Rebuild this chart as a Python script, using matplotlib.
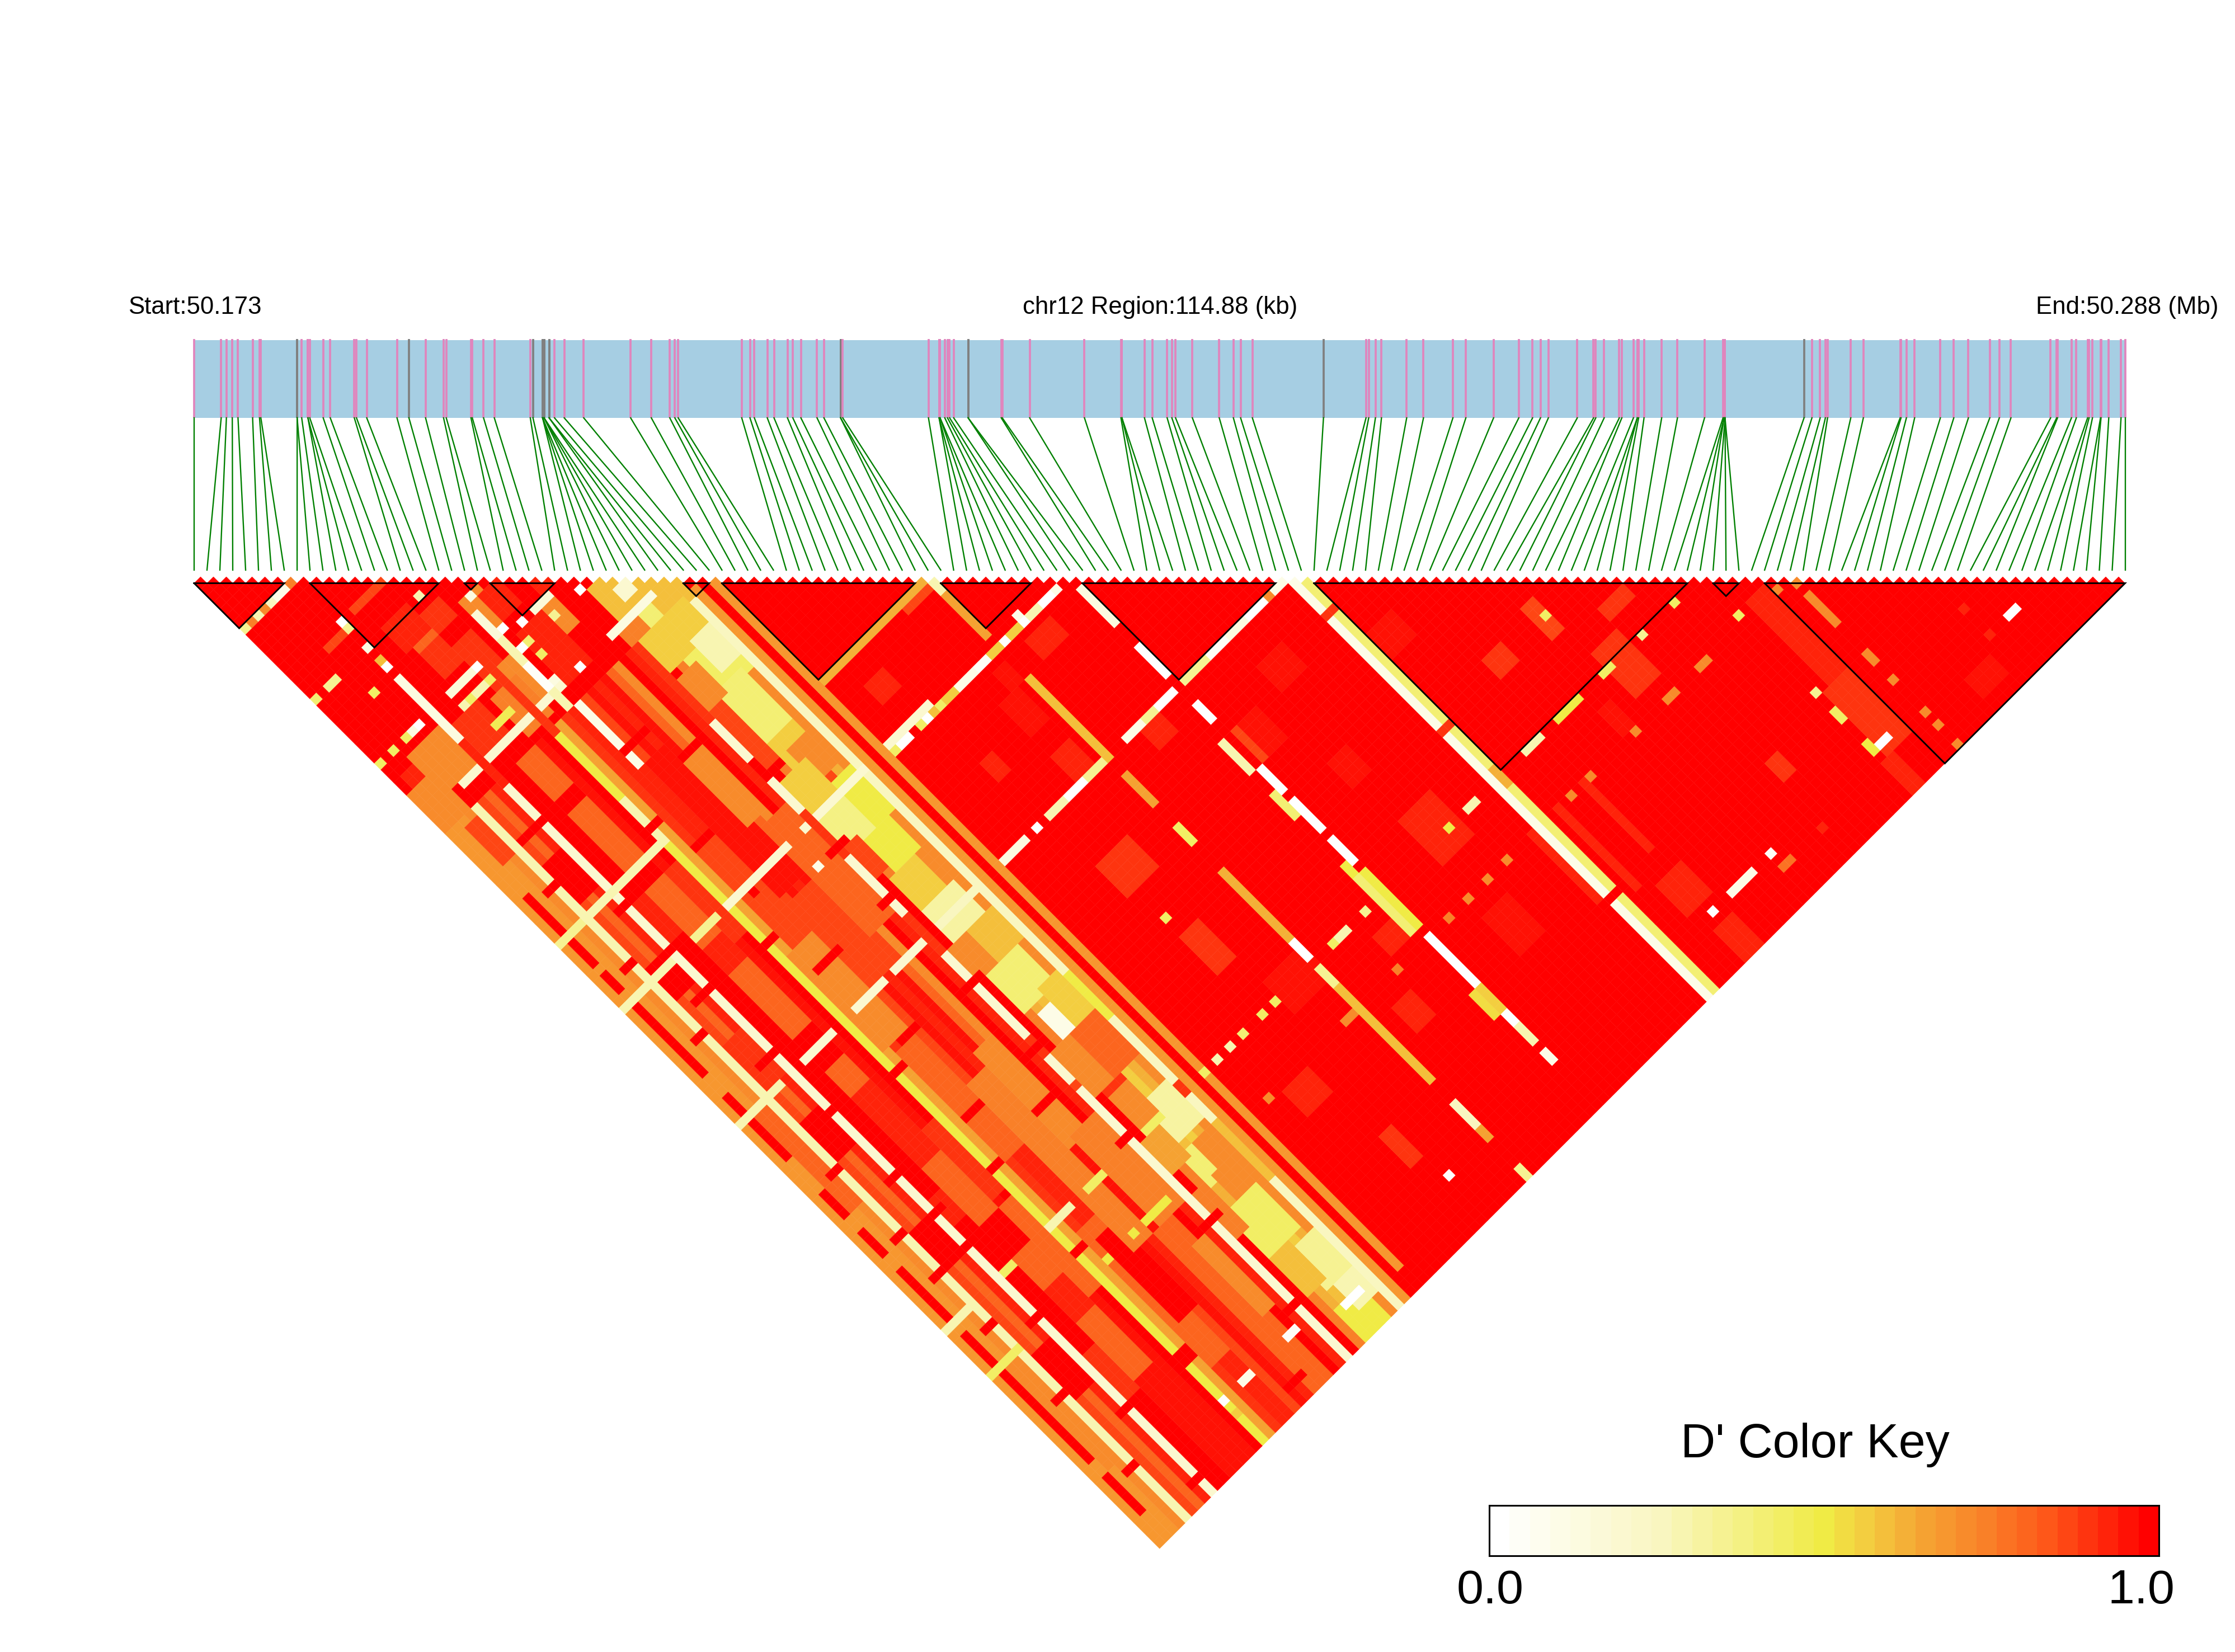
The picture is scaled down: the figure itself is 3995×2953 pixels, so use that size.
import numpy as np
import matplotlib
matplotlib.use("Agg")
import matplotlib.pyplot as plt
from matplotlib.collections import PolyCollection
from matplotlib.colors import LinearSegmentedColormap, BoundaryNorm

plt.rcParams['font.family'] = ['Liberation Sans', 'DejaVu Sans']

# SNP positions on the track, kb from region start
snp_kb = [0.0, 1.61, 1.92, 2.27, 2.61, 3.48, 3.89, 3.97, 6.13, 6.13, 6.40, 6.77, 6.77, 6.88, 7.68, 8.10, 9.53, 9.66,
          10.27, 12.07, 12.78, 13.77, 14.84, 15.0, 16.47, 16.55, 17.22, 17.86, 20.0, 20.16, 20.73, 20.73, 20.73,
          20.82, 20.82, 20.82, 21.12, 21.12, 21.44, 22.02, 23.18,
          25.97, 27.20, 28.30, 28.60, 28.80, 32.58, 33.07, 33.33, 34.10, 34.50, 35.30, 35.62, 36.10, 37.06, 37.47,
          38.46, 38.46, 38.59, 43.69, 44.32, 44.32, 44.38, 44.38, 44.66, 44.82, 44.95, 45.19, 46.05, 46.05,
          48.02, 48.08, 49.71, 52.97, 55.14, 55.20, 55.20, 56.54, 57.0, 57.89, 58.17, 58.39, 59.39, 60.99, 61.83,
          62.26, 62.96, 67.19, 69.72, 69.88, 70.28, 70.64, 72.14,
          73.14, 74.89, 75.66, 77.31, 78.81, 79.63, 80.10, 80.57, 82.29, 83.26, 83.39, 83.89, 84.79, 84.94, 85.63,
          85.86, 85.86, 85.94, 86.26, 87.31, 88.25, 89.86, 90.96, 91.02, 91.02, 91.08, 91.08, 91.08,
          95.78, 96.25, 96.74, 97.05, 97.18, 98.56, 99.31, 101.5, 101.55, 101.87, 102.36, 103.89, 104.69, 105.56,
          106.83, 107.40, 108.09, 110.45, 110.81, 110.86, 111.69, 111.98, 112.65, 112.74, 112.94, 113.42, 113.45,
          113.91, 114.64, 114.88]
gray_kb = [6.13, 12.78, 20.16, 20.73, 20.82, 21.12, 38.46, 46.05, 67.19, 95.78]
region_kb = 114.88
n_snp = len(snp_kb)

# haplotype blocks (first snp, last snp)
blocks = [(0, 7), (9, 19), (21, 22), (23, 28), (38, 40), (41, 56), (58, 65), (69, 84), (87, 116), (118, 120), (122, 150)]

# D' per snp i against the far snps (j>=40), left part of the triangle
left_i = [.67, .67, .67, .7, .28, .85, .8, .93, .2, 1, 1, .8, .8, .8, .95, 1, .5, .65, .9, .93, .93, .85, .95, .93,
          .95, .8, .7, 1, .93, .2, 1, .75, .62, .6, .55, .62, .7, .27, .68, 1, .68]

# (i0, i1, j0, j1, D')
boxes = [
    # mosaic in the left part
    (1, 1, 51, 57, 1), (1, 1, 58, 61, 1), (1, 1, 63, 65, 1), (1, 1, 67, 78, 1), (1, 1, 82, 84, 1), (1, 1, 86, 91, 1),
    (1, 1, 97, 100, 1), (1, 1, 103, 106, 1), (1, 1, 109, 113, 1), (1, 1, 114, 116, 1), (1, 1, 119, 123, 1),
    (1, 1, 125, 135, 1), (1, 1, 136, 138, 1), (1, 1, 141, 146, 1),
    (2, 3, 85, 100, .8), (2, 3, 125, 140, .72), (2, 3, 41, 46, .85),
    (5, 7, 50, 55, 1), (5, 7, 66, 70, 1), (5, 7, 78, 84, .9), (5, 7, 90, 95, 1), (5, 7, 107, 112, 1), (5, 7, 126, 132, 1),
    (9, 10, 60, 66, .93), (9, 10, 106, 109, .93), (9, 10, 130, 136, .9),
    (11, 13, 46, 47, 1), (11, 13, 58, 59, 1), (11, 13, 69, 72, .93), (11, 13, 83, 87, 1), (11, 13, 92, 102, .93),
    (11, 13, 112, 116, 1), (11, 13, 122, 126, .93), (11, 13, 136, 150, .95),
    (14, 15, 60, 70, .9), (14, 15, 100, 110, .9), (14, 15, 112, 125, .8),
    (18, 20, 60, 75, .85), (18, 20, 120, 140, .8), (19, 21, 122, 134, 1), (17, 20, 76, 90, .72), (18, 20, 92, 108, .8),
    (21, 23, 50, 70, .95), (21, 23, 100, 125, .75), (23, 24, 126, 135, .93), (21, 25, 72, 84, .85),
    (24, 26, 52, 62, .7), (24, 26, 98, 112, .72), (24, 26, 126, 150, .8), (26, 27, 130, 140, .72),
    (25, 28, 64, 80, .8), (25, 28, 112, 125, .75),
    # upper mosaic, j below 40
    (10, 14, 15, 15, .85), (5, 7, 16, 16, .85), (11, 14, 19, 22, .93), (12, 14, 23, 23, .8), (12, 14, 24, 27, .9),
    (15, 17, 21, 23, .88), (15, 17, 26, 33, .9), (19, 21, 23, 27, .72), (16, 18, 31, 36, .72), (14, 17, 33, 38, .75),
    (9, 12, 32, 36, .9), (1, 4, 32, 36, .93), (3, 7, 31, 36, .72), (0, 3, 34, 39, .7), (24, 26, 29, 33, .7),
    (21, 24, 30, 37, .92), (30, 37, 32, 40, .6), (32, 33, 34, 35, .2), (31, 33, 37, 39, .4), (29, 31, 37, 39, .75),
    (35, 37, 28, 31, .72), (26, 28, 24, 28, .92), (21, 23, 24, 27, .92),
    # yellow band
    (32, 36, 42, 50, .45), (31, 35, 50, 58, .42), (32, 35, 58, 61, .55), (30, 34, 68, 72, .38), (32, 35, 73, 77, .5),
    (31, 35, 83, 88, .33), (31, 35, 93, 98, .42), (32, 33, 100, 103, .1), (33, 36, 115, 120, .32), (32, 34, 122, 126, .4),
    (31, 35, 130, 136, .45), (33, 36, 138, 143, .35), (32, 35, 146, 150, .5),
    (30, 31, 50, 60, .85), (33, 34, 62, 66, .85), (31, 33, 105, 112, .9), (33, 35, 126, 129, .72),
    (30, 36, 40, 44, .55), (34, 36, 44, 48, .3), (30, 32, 46, 50, .7), (33, 35, 60, 64, .72), (30, 33, 62, 66, .55),
    (34, 36, 66, 72, .5), (30, 31, 72, 76, .85), (35, 36, 78, 82, .72), (31, 34, 78, 82, .55), (30, 32, 88, 92, .7),
    (33, 36, 88, 92, .6), (34, 36, 98, 104, .55), (30, 32, 104, 110, .72), (33, 36, 104, 110, .8), (31, 33, 112, 116, .72),
    (30, 32, 118, 122, .65), (34, 36, 122, 128, .7), (30, 31, 126, 132, .75), (31, 33, 137, 142, .6), (34, 36, 144, 147, .3),
    # red-orange patches on the right
    (94, 96, 107, 109, .88), (101, 102, 106, 110, .85), (103, 106, 115, 121, .88), (92, 92, 124, 134, .92),
    (107, 110, 112, 113, .88), (119, 121, 123, 135, .93), (118, 121, 136, 145, .9), (117, 118, 146, 150, .92),
    (108, 109, 137, 139, .88), (74, 76, 103, 106, .95), (75, 79, 113, 119, .93), (74, 77, 127, 132, .95),
    (52, 57, 115, 119, .94), (49, 51, 105, 110, .88), (53, 55, 73, 77, .96), (53, 55, 81, 84, .93), (55, 56, 70, 72, .95),
    (48, 52, 93, 97, .9), (49, 50, 136, 140, .88), (90, 93, 138, 142, .92), (91, 93, 146, 150, .92), (88, 88, 124, 136, .93),
    (84, 84, 124, 134, .93), (87, 90, 96, 99, .94), (60, 63, 70, 72, .93), (62, 64, 86, 88, .92), (44, 46, 61, 63, .92),
    (47, 48, 76, 78, .93), (70, 72, 93, 97, .95), (76, 79, 90, 93, .95), (99, 100, 120, 123, .94), (130, 133, 146, 148, .96),
    (60, 62, 127, 130, .92), (64, 66, 120, 122, .92), (45, 48, 125, 128, .93),
]

# long stripes of one snp j: (j, i0, i1, D')
j_stripes = [
    (8, 0, 0, .35), (8, 1, 1, .75), (8, 2, 2, .3), (8, 3, 3, .72), (8, 4, 4, .25), (8, 5, 6, .1), (8, 7, 7, .75),
    (19, 0, 0, .4), (19, 2, 3, .35), (19, 16, 16, .3),
    (23, 5, 5, .45), (23, 20, 20, .15),
    (29, 0, 0, .45), (29, 2, 2, .45), (29, 4, 4, .45), (29, 5, 5, .15), (29, 6, 6, 0), (29, 11, 14, .18), (29, 15, 16, .02),
    (29, 22, 22, 0), (29, 24, 26, .18),
    (31, 11, 14, .3), (31, 15, 16, .45), (31, 20, 20, 0), (31, 21, 21, .4), (31, 25, 25, .35), (31, 29, 29, 0),
    (33, 21, 21, .45), (35, 12, 14, .48),
    (37, 5, 20, .2), (37, 28, 34, .15), (37, 23, 23, 0),
    (57, 0, 3, .35), (57, 5, 16, .3), (57, 41, 56, .62), (57, 40, 40, .15),
    (58, 53, 56, .85),
    (67, 0, 7, .3), (67, 11, 14, .35), (67, 16, 25, .2), (67, 28, 38, .2), (67, 40, 47, .2),
    (68, 41, 41, .45), (68, 42, 43, 0), (68, 45, 45, .45), (68, 46, 46, 0), (68, 47, 47, .6), (68, 48, 48, .45),
    (68, 49, 50, .55), (68, 51, 53, .1), (68, 54, 55, .05), (68, 56, 57, .55), (68, 58, 58, 0), (68, 59, 60, .55),
    (68, 61, 61, 0), (68, 62, 63, .3), (68, 64, 65, 0), (68, 66, 66, .1),
    (85, 0, 6, .3), (85, 10, 14, .2), (85, 18, 22, .2), (85, 24, 28, .2), (85, 31, 37, .25), (85, 40, 44, .15),
    (85, 46, 47, 0), (85, 48, 50, .3), (85, 51, 53, 0), (85, 54, 57, .35), (85, 60, 62, .1), (85, 63, 64, .35),
    (85, 65, 67, 0), (85, 69, 72, .35), (85, 73, 75, .05), (85, 76, 78, .15), (85, 79, 81, 0), (85, 82, 82, .72), (85, 83, 84, .1),
    (117, 0, 3, .3), (117, 9, 10, .45), (117, 16, 19, .3), (117, 22, 24, .45), (117, 31, 33, .45), (117, 40, 40, .45),
    (117, 42, 42, .3), (117, 44, 44, .3), (117, 46, 46, .4), (117, 49, 49, .45), (117, 51, 51, .45), (117, 61, 62, .3),
    (117, 65, 65, .35), (117, 78, 78, .5), (117, 81, 82, .3), (117, 90, 92, .3), (117, 95, 98, .5), (117, 102, 103, .45),
    (117, 108, 108, .35), (117, 113, 113, .45),
    (124, 0, 4, .45), (124, 16, 16, .5), (124, 18, 18, .5), (124, 22, 22, .5), (124, 24, 27, .5), (124, 43, 43, .7),
    (124, 55, 57, .72), (124, 63, 63, .75), (124, 71, 71, .75), (124, 74, 74, .7), (124, 77, 77, .72), (124, 80, 80, .72),
    (124, 90, 90, .72), (124, 93, 93, .72), (124, 100, 100, .72), (124, 105, 106, .7), (124, 110, 111, .72),
    (144, 16, 16, 0), (144, 19, 20, .1), (144, 26, 27, .05), (144, 40, 40, 0), (144, 51, 51, 0), (144, 92, 92, 0),
    (144, 95, 98, .1), (144, 101, 101, .05), (144, 118, 119, 0), (144, 138, 139, .03),
    (146, 33, 35, 0), (146, 102, 102, .78),
]

# long stripes of one snp i: (i, j0, j1, D')
i_stripes = [
    (8, 9, 14, 1), (8, 15, 15, 0), (8, 16, 16, .35), (8, 17, 18, 1), (8, 19, 19, .15), (8, 20, 20, 1), (8, 21, 21, .6),
    (8, 22, 22, 0), (8, 23, 23, 1), (8, 24, 33, .15), (8, 34, 40, .93),
    (16, 28, 40, .9),
    (19, 25, 28, .18), (19, 29, 32, .3), (19, 33, 36, .05), (19, 37, 39, .3), (20, 40, 49, .1), (20, 28, 28, 0),
    (16, 51, 57, .3),
    (29, 40, 51, .9), (29, 58, 60, 1), (29, 66, 72, .9), (29, 82, 87, .9), (29, 101, 103, .9), (29, 108, 108, .85),
    (37, 99, 105, .5), (37, 116, 117, .9), (37, 122, 130, .6),
    (38, 41, 150, .68), (39, 40, 150, 1), (40, 41, 147, .68), (40, 148, 150, 1),
    (57, 58, 59, .3), (57, 60, 66, .65), (57, 73, 85, .6), (57, 88, 92, .65), (57, 96, 98, .45), (57, 103, 113, .62),
    (57, 114, 116, 0), (57, 118, 120, .35), (57, 121, 135, .6), (57, 139, 142, .25), (57, 143, 144, .65), (57, 149, 150, .35),
    (68, 70, 75, .15), (68, 79, 83, .03), (68, 88, 90, .02), (67, 93, 97, .3), (68, 98, 101, .02), (67, 101, 104, .4),
    (68, 103, 107, .02), (68, 109, 112, 0), (67, 112, 113, .5), (68, 114, 122, .5), (67, 114, 122, .4), (68, 124, 127, .02),
    (68, 127, 132, 0), (67, 132, 135, .52), (68, 132, 135, .55), (68, 136, 137, 0), (68, 138, 140, .3), (68, 142, 143, .1),
    (69, 93, 97, .85),
    (85, 86, 150, .12), (86, 86, 150, .42), (85, 91, 91, .9), (86, 91, 91, .9), (85, 135, 135, 1), (86, 135, 135, 1),
    (85, 109, 109, .9), (86, 109, 109, .9), (86, 116, 118, .62),
    (117, 123, 123, .45), (117, 135, 135, .35), (117, 138, 139, .45), (117, 143, 144, .5),
    (124, 125, 125, .72), (124, 127, 131, .72), (124, 136, 137, .72), (124, 140, 140, .72), (124, 145, 145, .72),
    (124, 147, 147, .72), (124, 150, 150, .72), (122, 124, 124, .72),
    (135, 140, 140, .93), (135, 144, 144, .93),
]

# short down-left runs of full D' that break up the left part: (j, i0, i1)
red_cross = [(46, 5, 8), (47, 20, 23), (52, 3, 5), (52, 24, 27), (59, 7, 9), (60, 18, 20), (60, 29, 31), (66, 7, 10),
             (71, 28, 30), (72, 6, 8), (79, 18, 21), (79, 28, 30), (82, 6, 9), (91, 7, 9), (91, 19, 21), (92, 28, 30),
             (101, 7, 9), (102, 18, 20), (102, 28, 30), (107, 7, 9), (107, 24, 26), (112, 3, 5), (112, 8, 10), (116, 28, 30),
             (123, 7, 9), (129, 28, 30), (137, 7, 9), (137, 15, 17), (142, 28, 30), (148, 7, 9), (148, 22, 24),
             (64, 3, 4), (75, 3, 4), (96, 3, 4), (106, 3, 4), (120, 3, 4), (131, 3, 4), (142, 3, 4),
             (55, 16, 17), (73, 16, 17), (93, 16, 17), (108, 16, 17), (121, 16, 17), (138, 16, 17)]

# isolated cells (i, j, D')
cells = [(49, 102, .45), (43, 124, .72), (61, 67, .1), (47, 85, 1), (44, 68, 1), (101, 146, .78), (102, 108, .45),
         (51, 144, 0), (26, 71, .1), (23, 37, 0), (20, 36, .15), (16, 146, .55), (28, 37, .15), (12, 31, .45),
         (19, 68, 1), (30, 85, 1), (60, 117, .45), (40, 117, .45), (107, 146, .92)]

# colour key stops, read from the key
key_values = [0, .25, .5, .56, .65, .75, .85, 1]
key_colors = ["#ffffff", "#f9f6c0", "#f0eb45", "#f3cf40", "#f5a433", "#f98028", "#fe5418", "#ff0000"]
n_key = 33

D = np.ones((n_snp, n_snp))
for i, v in enumerate(left_i):
    D[i, max(40, i + 1):] = v
for i0, i1, j0, j1, v in boxes:
    D[i0:i1 + 1, j0:j1 + 1] = v
for j, i0, i1, v in j_stripes:
    D[i0:i1 + 1, j] = v
for i, j0, j1, v in i_stripes:
    D[i, j0:j1 + 1] = v
for j, i0, i1 in red_cross:
    D[i0:i1 + 1, j] = 1
for i, j, v in cells:
    D[i, j] = v

cmap = LinearSegmentedColormap.from_list("ld", list(zip(key_values, key_colors)), N=n_key)
norm = BoundaryNorm(np.linspace(0, 1, n_key + 1), n_key)

W, H = 3995, 2953
fig = plt.figure(figsize=(W / 100, H / 100), dpi=100)
ax = fig.add_axes([0, 0, 1, 1])
step = 23.01
x_left = 347
# x axis in snp units, y axis in lag units (one lag = half a snp step, growing downwards)
ax.set_xlim(-x_left / step, (W - x_left) / step)
y0 = 1042.5


def lag(py):
    return (py - y0) / (step / 2) + 1


ax.set_ylim(lag(H), lag(0))
ax.axis("off")

# triangle of cells
polys = []
vals = []
for i in range(n_snp):
    for j in range(i + 1, n_snp):
        xc = (i + j) / 2
        lc = j - i
        polys.append([(xc - .5, lc), (xc, lc - 1), (xc + .5, lc), (xc, lc + 1)])
        vals.append(D[i, j])
pc = PolyCollection(polys, array=np.array(vals), cmap=cmap, norm=norm, edgecolors="face", linewidths=.3)
ax.add_collection(pc)

# track and connectors
x_track = np.array(snp_kb) / region_kb * (n_snp - 1)
ax.fill_between([0, n_snp - 1], lag(608), lag(747), color="#a6cee3", lw=0)
for kb, xt in zip(snp_kb, x_track):
    c = "#808080" if kb in gray_kb else "#e085bd"
    ax.plot([xt, xt], [lag(606), lag(747)], color=c, lw=2.7, solid_capstyle="butt")
for k, xt in enumerate(x_track):
    ax.plot([xt, k], [lag(747), lag(1019)], color="#008000", lw=1.7)

# block outlines
for a, b in blocks:
    ax.plot([a, b, (a + b) / 2, a], [1, 1, 1 + (b - a), 1], color="black", lw=2.1, solid_joinstyle="miter")

ax.text(229 / step - x_left / step, lag(561), "Start:50.173", fontsize=31.5, ha="left", va="baseline")
ax.text((2074 - x_left) / step, lag(561), "chr12 Region:114.88 (kb)", fontsize=31.5, ha="center", va="baseline")
ax.text((3639 - x_left) / step, lag(561), "End:50.288 (Mb)", fontsize=31.5, ha="left", va="baseline")

# colour key
kx0, kx1, ky0, ky1 = 2662, 3859, 2691, 2781
kax = fig.add_axes([kx0 / W, 1 - ky1 / H, (kx1 - kx0) / W, (ky1 - ky0) / H])
edges = np.linspace(0, 1, n_key + 1)
kax.pcolormesh(edges, [0, 1], ((edges[:-1] + edges[1:]) / 2).reshape(1, -1), cmap=cmap, norm=norm)
kax.set_xticks([])
kax.set_yticks([])
for s in kax.spines.values():
    s.set_linewidth(2.2)
fig.text(3244 / W, 1 - 2605 / H, "D' Color Key", fontsize=62, ha="center", va="baseline")
fig.text(2664 / W, 1 - 2866 / H, "0.0", fontsize=62, ha="center", va="baseline")
fig.text(3827 / W, 1 - 2866 / H, "1.0", fontsize=62, ha="center", va="baseline")

fig.savefig("out.png", dpi=100)
